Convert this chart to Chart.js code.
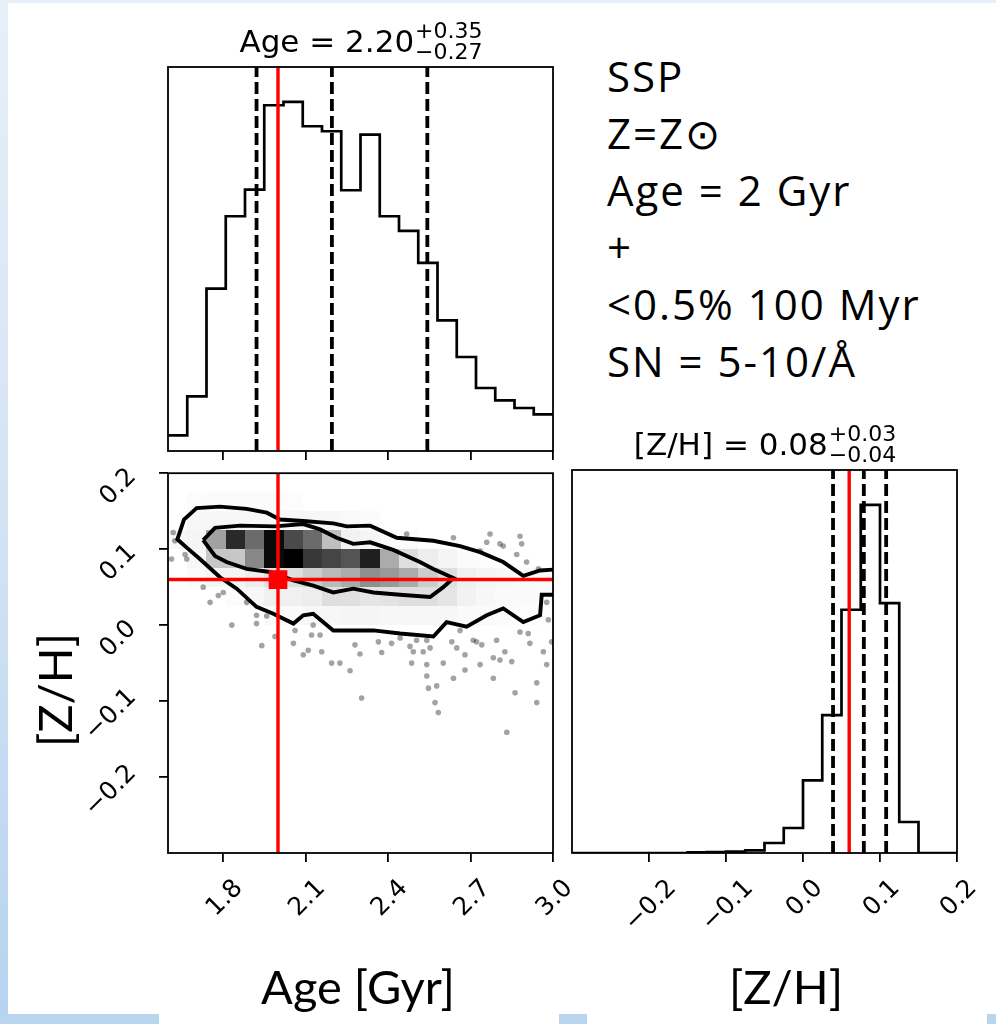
<!DOCTYPE html>
<html>
<head>
<meta charset="utf-8">
<script src="https://cdn.jsdelivr.net/npm/chart.js@4.4.0/dist/chart.umd.min.js"></script>
<style>
html, body { margin: 0; padding: 0; background: #fff; }
#page { position: relative; width: 996px; height: 1024px; overflow: hidden; background: #fff; }
.strip { position: absolute; }
canvas { position: absolute; }
#note { position: absolute; left: 607px; top: 47px; font-family: 'Open Sans'; font-size: 42px; line-height: 57px;
        letter-spacing: 2px; color: #000; white-space: nowrap; }
</style>
</head>
<body>
<div id="page">
  <div class="strip" style="left:0;top:0;width:996px;height:3px;background:#e7eff9"></div>
  <div class="strip" style="left:0;top:0;width:8px;height:1024px;background:linear-gradient(#e7eff9,#d3e3f4 50%,#b7d3ee)"></div>
  <div class="strip" style="left:0;top:1014px;width:159px;height:10px;background:#b8d4ee"></div>
  <div class="strip" style="left:559px;top:1014px;width:28px;height:10px;background:#b8d4ee"></div>
  <div class="strip" style="left:987px;top:1014px;width:9px;height:10px;background:#b8d4ee"></div>
  <canvas id="cJoint"></canvas>
  <canvas id="cAge"></canvas>
  <canvas id="cZ"></canvas>
  <div id="note">SSP<br>Z=Z⊙<br>Age = 2 Gyr<br>+<br>&lt;0.5% 100 Myr<br>SN = 5-10/Å</div>
</div>
<script>
// ---- data ----
const ageEdges = [1.60, 1.67, 1.74, 1.81, 1.88, 1.95, 2.02, 2.09, 2.16, 2.23, 2.30,
                  2.37, 2.44, 2.51, 2.58, 2.65, 2.72, 2.79, 2.86, 2.93, 3.00];
const ageCounts = [47, 164, 487, 704, 784, 1037, 1047, 974, 959, 782,
                   949, 704, 660, 564, 392, 282, 189, 152, 129, 110];
const zEdges = [-0.300, -0.275, -0.250, -0.225, -0.200, -0.175, -0.150, -0.125, -0.100, -0.075, -0.050,
                -0.025, 0.000, 0.025, 0.050, 0.075, 0.100, 0.125, 0.150, 0.175, 0.200];
const zCounts = [0, 0, 0, 0, 0, 0, 2, 3, 4, 8, 30, 75, 218, 414, 730, 1045, 750, 93, 0, 0];

const ageQuantiles = [1.922, 2.196, 2.543];
const zQuantiles = [0.039, 0.079, 0.108];
const truthAge = 2.0;
const truthZ = 0.06;

const ageTicks = [1.8, 2.1, 2.4, 2.7, 3.0];
const ageTickLabels = ['1.8', '2.1', '2.4', '2.7', '3.0'];
const zTicks = [-0.2, -0.1, 0.0, 0.1, 0.2];
const zTickLabels = ['\u22120.2', '\u22120.1', '0.0', '0.1', '0.2'];

// 2D density (alpha of black) per age bin, for the [Z/H] bins starting at densityZLow
const densityZLow = [0.150, 0.125, 0.100, 0.075, 0.050, 0.025, 0.000];
const density = [
  [0, 0.01, 0.015, 0.015, 0.015, 0.015, 0.01, 0, 0, 0, 0, 0, 0, 0, 0, 0, 0, 0, 0, 0],
  [0, 0.03, 0.03, 0.03, 0.03, 0.03, 0.03, 0.03, 0.03, 0.025, 0.015, 0, 0, 0, 0, 0, 0, 0, 0, 0],
  [0.03, 0.04, 0.37, 0.84, 0.58, 0.96, 0.71, 0.58, 0.25, 0.05, 0.04, 0.02, 0.015, 0, 0, 0, 0, 0, 0, 0],
  [0, 0.03, 0.22, 0.22, 0.47, 0.96, 1.0, 0.78, 0.73, 0.67, 0.88, 0.33, 0.13, 0.07, 0.04, 0.015, 0.01, 0, 0, 0],
  [0, 0.015, 0.04, 0.04, 0.07, 0.12, 0.13, 0.2, 0.27, 0.33, 0.44, 0.4, 0.33, 0.2, 0.13, 0.06, 0.04, 0.03, 0.02, 0.02],
  [0, 0, 0, 0.01, 0.03, 0.06, 0.06, 0.07, 0.13, 0.12, 0.1, 0.11, 0.13, 0.13, 0.1, 0.05, 0.03, 0.02, 0.02, 0.015],
  [0, 0, 0, 0, 0, 0.02, 0.02, 0.03, 0.03, 0.04, 0.04, 0.03, 0.03, 0.03, 0.03, 0.02, 0.02, 0.015, 0.01, 0.01]
];

// contour levels as [age, [Z/H]]
const outerContour = [
  [3.0, 0.040], [2.959, 0.040], [2.953, 0.013], [2.892, 0.004], [2.819, 0.022], [2.759, 0.013],
  [2.686, -0.002], [2.613, 0.004], [2.565, -0.015], [2.444, -0.011], [2.347, -0.007], [2.201, -0.007],
  [2.128, 0.015], [2.092, 0.013], [2.056, 0.002], [1.983, 0.015], [1.922, 0.024], [1.850, 0.048],
  [1.789, 0.063], [1.716, 0.087], [1.668, 0.102], [1.634, 0.113], [1.658, 0.139], [1.704, 0.154],
  [1.789, 0.156], [1.886, 0.153], [1.959, 0.148], [2.007, 0.139], [2.092, 0.137], [2.201, 0.134],
  [2.250, 0.130], [2.335, 0.131], [2.432, 0.115], [2.565, 0.111], [2.662, 0.104], [2.735, 0.096],
  [2.819, 0.083], [2.892, 0.065], [2.953, 0.072], [3.0, 0.073]
];
const innerContour = [
  [1.728, 0.112], [1.771, 0.128], [1.862, 0.131], [1.989, 0.130], [2.092, 0.133], [2.153, 0.126],
  [2.213, 0.115], [2.274, 0.107], [2.335, 0.109], [2.419, 0.099], [2.516, 0.083], [2.565, 0.074],
  [2.638, 0.062], [2.601, 0.050], [2.553, 0.037], [2.444, 0.040], [2.347, 0.043], [2.274, 0.048],
  [2.201, 0.043], [2.128, 0.052], [2.056, 0.059], [1.971, 0.070], [1.886, 0.074], [1.813, 0.083],
  [1.771, 0.091], [1.728, 0.112]
];

// samples outside the outer contour
const sampleAge = [1.619, 1.625, 1.613, 1.662, 1.668, 1.728, 1.753, 1.783, 1.801, 1.832, 1.886, 1.922,
  1.959, 1.922, 1.989, 1.941, 2.056, 2.062, 2.092, 2.110, 2.128, 2.122, 2.159, 2.153, 2.195, 2.225,
  2.262, 2.280, 2.298, 2.304, 2.377, 2.413, 2.444, 2.468, 2.480, 2.486, 2.492, 2.528, 2.541, 2.547,
  2.553, 2.541, 2.571, 2.577, 2.583, 2.601, 2.638, 2.632, 2.650, 2.680, 2.680, 2.722, 2.735, 2.741,
  2.759, 2.771, 2.783, 2.795, 2.807, 2.807, 2.825, 2.832, 2.850, 2.862, 2.868, 2.886, 2.880, 2.904,
  2.916, 2.941, 2.941, 2.947, 2.965, 2.977, 2.977, 2.983, 2.995, 2.638, 2.735, 2.735, 2.819, 2.880,
  2.783, 2.710, 2.910, 2.662, 2.541, 2.504, 2.365];
const sampleZ = [0.122, 0.111, 0.087, 0.093, 0.087, 0.050, 0.030, 0.039, 0.043, 0.000, 0.030, 0.013,
  0.012, 0.002, -0.015, -0.027, -0.024, -0.007, -0.039, -0.033, 0.000, -0.013, -0.035, -0.013, -0.050, -0.050,
  -0.060, -0.026, -0.038, -0.096, -0.036, -0.024, -0.017, 0.120, -0.028, -0.050, -0.035, -0.035, -0.052, -0.083,
  -0.030, -0.067, -0.102, -0.080, -0.115, -0.050, -0.070, -0.022, -0.030, -0.059, -0.039, -0.022, -0.052, -0.026,
  0.109, 0.120, -0.043, -0.020, -0.046, 0.107, -0.035, -0.141, -0.048, -0.089, 0.093, 0.107, -0.009, 0.083,
  -0.024, -0.076, -0.102, 0.074, -0.035, -0.052, 0.030, 0.007, -0.022, 0.115, 0.098, 0.087, 0.104, 0.117,
  -0.070, -0.020, -0.011, -0.007, -0.020, -0.020, -0.022];

// ---- layout ----
const TICK_SIZE = 25;
const TICK_FONT = TICK_SIZE + 'px "DejaVu Sans"';
const LABEL_FONT = '47px Lato';
const boxes = {
  age:   { x: 168, y: 67,  w: 385, h: 384, m: { l: 20,  t: 67, r: 20, b: 20 } },
  joint: { x: 168, y: 470, w: 385, h: 383, m: { l: 168, t: 10, r: 20, b: 171 } },
  z:     { x: 572, y: 470, w: 385, h: 383, m: { l: 10,  t: 55, r: 39, b: 171 } }
};

function place(canvas, b) {
  canvas.width = b.w + b.m.l + b.m.r;
  canvas.height = b.h + b.m.t + b.m.b;
  canvas.style.left = (b.x - b.m.l) + 'px';
  canvas.style.top = (b.y - b.m.t) + 'px';
}

function axis(range, ticks, size, pos) {
  return {
    type: 'linear', position: pos, min: range[0], max: range[1],
    afterBuildTicks: s => { s.ticks = ticks.map(v => ({ value: v })); },
    afterFit: s => { if (pos === 'bottom') s.height = size; else s.width = size; },
    grid: { display: ticks.length > 0, drawOnChartArea: false, drawTicks: true, tickLength: 9,
            tickWidth: 1.8, tickColor: '#000', color: '#000', lineWidth: 1.8 },
    border: { display: false },
    ticks: { display: false }
  };
}

function stepData(edges, counts) {
  const pts = counts.map((c, i) => ({ x: edges[i], y: c }));
  pts.push({ x: edges[edges.length - 1], y: counts[counts.length - 1] });
  return pts;
}

function vline(v, lo, hi, color, dash, order) {
  return { data: [{ x: v, y: lo }, { x: v, y: hi }], borderColor: color, borderWidth: dash.length ? 3.8 : 3.4,
           borderDash: dash, pointRadius: 0, order: order };
}

const decor = {
  id: 'decor',
  afterDraw(chart, args, o) {
    const ctx = chart.ctx, a = chart.chartArea, xs = chart.scales.x, ys = chart.scales.y;
    ctx.save();
    ctx.strokeStyle = '#000';
    ctx.lineWidth = 1.8;
    ctx.strokeRect(a.left, a.top, a.right - a.left, a.bottom - a.top);
    ctx.fillStyle = '#000';
    ctx.font = TICK_FONT;
    const capH = 0.73 * TICK_SIZE;
    if (o.xTicks) {
      o.xTicks.values.forEach((v, i) => {
        const t = o.xTicks.labels[i];
        const B = (ctx.measureText(t).width + capH) / Math.SQRT2;
        ctx.save();
        ctx.translate(xs.getPixelForValue(v), a.bottom + 23 + B / 2);
        ctx.rotate(-Math.PI / 4);
        ctx.textAlign = 'center';
        ctx.fillText(t, 0, capH / 2);
        ctx.restore();
      });
    }
    if (o.yTicks) {
      o.yTicks.values.forEach((v, i) => {
        const t = o.yTicks.labels[i];
        const B = (ctx.measureText(t).width + capH) / Math.SQRT2;
        ctx.save();
        ctx.translate(a.left - 31 - B / 2, ys.getPixelForValue(v) + 12);
        ctx.rotate(-Math.PI / 4);
        ctx.textAlign = 'center';
        ctx.fillText(t, 0, capH / 2);
        ctx.restore();
      });
    }
    if (o.title) {
      const T = o.title;
      ctx.textAlign = 'left';
      ctx.font = '31px "DejaVu Sans"';
      const wm = ctx.measureText(T.main).width;
      ctx.font = '22px "DejaVu Sans"';
      const ws = Math.max(ctx.measureText(T.sup).width, ctx.measureText(T.sub).width);
      const x0 = (a.left + a.right) / 2 - (wm + ws) / 2;
      ctx.font = '31px "DejaVu Sans"';
      ctx.fillText(T.main, x0, a.top - 15);
      ctx.font = '22px "DejaVu Sans"';
      ctx.fillText(T.sup, x0 + wm + 1, a.top - 29);
      ctx.fillText(T.sub, x0 + wm + 1, a.top - 8);
    }
    (o.labels || []).forEach(l => {
      ctx.save();
      ctx.font = LABEL_FONT;
      ctx.textAlign = 'center';
      ctx.translate(l.x, l.y);
      ctx.rotate(l.rot || 0);
      ctx.fillText(l.text, 0, 0);
      ctx.restore();
    });
    ctx.restore();
  }
};

// white fill inside the outer contour, then the density cells, right after the samples
const densityLayer = {
  id: 'densityLayer',
  afterDatasetDraw(chart, args) {
    if (args.index !== 0) return;
    const ctx = chart.ctx, a = chart.chartArea, xs = chart.scales.x, ys = chart.scales.y;
    ctx.save();
    ctx.beginPath();
    ctx.rect(a.left, a.top, a.right - a.left, a.bottom - a.top);
    ctx.clip();
    ctx.beginPath();
    outerContour.forEach((p, i) => {
      const px = xs.getPixelForValue(p[0]), py = ys.getPixelForValue(p[1]);
      if (i) ctx.lineTo(px, py); else ctx.moveTo(px, py);
    });
    ctx.closePath();
    ctx.fillStyle = '#fff';
    ctx.fill();
    const dz = zEdges[1] - zEdges[0];
    density.forEach((row, r) => row.forEach((d, c) => {
      if (!d) return;
      const x0 = Math.round(xs.getPixelForValue(ageEdges[c]));
      const x1 = Math.round(xs.getPixelForValue(ageEdges[c + 1]));
      const y0 = Math.round(ys.getPixelForValue(densityZLow[r] + dz));
      const y1 = Math.round(ys.getPixelForValue(densityZLow[r]));
      ctx.fillStyle = 'rgba(0,0,0,' + d + ')';
      ctx.fillRect(x0, y0, x1 - x0, y1 - y0);
    }));
    ctx.restore();
  }
};

const baseOptions = (b, scales, decorOpts) => ({
  responsive: false, animation: false, devicePixelRatio: 1, events: [],
  layout: { padding: { left: 0, top: b.m.t, right: b.m.r, bottom: 0 } },
  elements: { point: { radius: 0 }, line: { tension: 0 } },
  scales: scales,
  plugins: { legend: { display: false }, tooltip: { enabled: false }, decor: decorOpts }
});

const ageRange = [ageEdges[0], ageEdges[ageEdges.length - 1]];
const zRange = [zEdges[0], zEdges[zEdges.length - 1]];

// ---- Age histogram ----
const ageMax = Math.max(...ageCounts) * 1.1;
const cAge = document.getElementById('cAge');
place(cAge, boxes.age);
new Chart(cAge, {
  type: 'line',
  data: { datasets: [
    { data: stepData(ageEdges, ageCounts), stepped: true, borderColor: '#000', borderWidth: 2.7, order: 5 },
    ...ageQuantiles.map(q => vline(q, 0, ageMax, '#000', [12, 5], 3)),
    vline(truthAge, 0, ageMax, '#ff0000', [], 1)
  ] },
  options: baseOptions(boxes.age, {
    x: axis(ageRange, ageTicks, boxes.age.m.b, 'bottom'),
    y: axis([0, ageMax], [], boxes.age.m.l, 'left')
  }, { title: { main: 'Age = 2.20', sup: '+0.35', sub: '\u22120.27' } }),
  plugins: [decor]
});

// ---- joint Age vs [Z/H] ----
const cJoint = document.getElementById('cJoint');
place(cJoint, boxes.joint);
const toXY = p => ({ x: p[0], y: p[1] });
new Chart(cJoint, {
  type: 'line',
  data: { datasets: [
    { data: sampleAge.map((v, i) => ({ x: v, y: sampleZ[i] })), showLine: false, pointRadius: 2.8,
      pointBackgroundColor: 'rgba(0,0,0,0.36)', pointBorderWidth: 0, order: 10 },
    { data: outerContour.map(toXY), borderColor: '#000', borderWidth: 3.9, order: 5 },
    { data: innerContour.map(toXY), borderColor: '#000', borderWidth: 3.9, order: 5 },
    vline(truthAge, zRange[0], zRange[1], '#ff0000', [], 2),
    { data: [{ x: ageRange[0], y: truthZ }, { x: ageRange[1], y: truthZ }], borderColor: '#ff0000',
      borderWidth: 3.4, order: 2 },
    { data: [{ x: truthAge, y: truthZ }], showLine: false, pointStyle: 'rect', pointRadius: 13.2,
      pointBackgroundColor: '#ff0000', pointBorderWidth: 0, order: 1 }
  ] },
  options: baseOptions(boxes.joint, {
    x: axis(ageRange, ageTicks, boxes.joint.m.b, 'bottom'),
    y: axis(zRange, zTicks, boxes.joint.m.l, 'left')
  }, {
    xTicks: { values: ageTicks, labels: ageTickLabels },
    yTicks: { values: zTicks, labels: zTickLabels },
    labels: [
      { text: 'Age [Gyr]', x: 358, y: 544 },
      { text: '[Z/H]', x: 72, y: 230, rot: -Math.PI / 2 }
    ]
  }),
  plugins: [densityLayer, decor]
});

// ---- [Z/H] histogram ----
const zMax = Math.max(...zCounts) * 1.1;
const cZ = document.getElementById('cZ');
place(cZ, boxes.z);
new Chart(cZ, {
  type: 'line',
  data: { datasets: [
    { data: stepData(zEdges, zCounts), stepped: true, borderColor: '#000', borderWidth: 2.7, order: 5 },
    ...zQuantiles.map(q => vline(q, 0, zMax, '#000', [12, 5], 3)),
    vline(truthZ, 0, zMax, '#ff0000', [], 1)
  ] },
  options: baseOptions(boxes.z, {
    x: axis(zRange, zTicks, boxes.z.m.b, 'bottom'),
    y: axis([0, zMax], [], boxes.z.m.l, 'left')
  }, {
    title: { main: '[Z/H] = 0.08', sup: '+0.03', sub: '\u22120.04' },
    xTicks: { values: zTicks, labels: zTickLabels },
    labels: [{ text: '[Z/H]', x: 224, y: 589 }]
  }),
  plugins: [decor]
});
</script>
</body>
</html>
